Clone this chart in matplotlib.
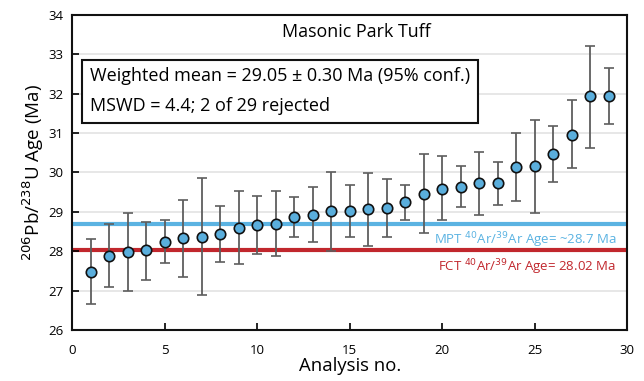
import numpy as np
import matplotlib
matplotlib.use('Agg')
from matplotlib import pyplot as plt

plt.rcParams['font.family'] = ['Open Sans', 'DejaVu Sans']

analysis = np.arange(1, 30)
age = [27.48, 27.88, 27.99, 28.03, 28.24, 28.33, 28.37, 28.44, 28.59, 28.66,
       28.70, 28.87, 28.93, 29.03, 29.03, 29.07, 29.09, 29.25, 29.46, 29.58,
       29.64, 29.72, 29.72, 30.14, 30.15, 30.46, 30.96, 31.93, 31.95]
upper = [28.30, 28.70, 28.97, 28.75, 28.78, 29.31, 29.85, 29.14, 29.52, 29.41,
         29.53, 29.38, 29.64, 30.02, 29.69, 29.98, 29.84, 29.69, 30.46, 30.41,
         30.17, 30.51, 30.26, 31.01, 31.34, 31.18, 31.84, 33.22, 32.66]
lower = [26.65, 27.08, 27.00, 27.28, 27.69, 27.35, 26.88, 27.73, 27.67, 27.93,
         27.87, 28.37, 28.23, 28.00, 28.37, 28.14, 28.35, 28.80, 28.47, 28.78,
         29.11, 28.92, 29.18, 29.28, 28.96, 29.75, 30.10, 30.63, 31.24]
mpt_age = 28.7
fct_age = 28.02

age = np.array(age)
yerr = [age - np.array(lower), np.array(upper) - age]

fig = plt.figure(figsize=(6.44, 3.81), dpi=100)
ax = fig.add_axes([0.112, 0.134, 0.862, 0.827])

for y in range(27, 34):
    ax.axhline(y, color='#e3e3e3', lw=1.2, zorder=0)

ax.axhline(mpt_age, color='#5bb3e2', lw=3, zorder=1)
ax.axhline(fct_age, color='#c1272d', lw=3, zorder=1)

ax.errorbar(analysis, age, yerr=yerr, fmt='o', color='#5e5e5e', elinewidth=1.3,
            capsize=3.5, capthick=1.2, markerfacecolor='#5aaedc',
            markeredgecolor='#111111', markeredgewidth=1.2, markersize=7.5, zorder=3)

ax.text(29.4, mpt_age - 0.17, 'MPT $^{40}$Ar/$^{39}$Ar Age= ~28.7 Ma', color='#5bb3e2',
        ha='right', va='top', fontsize=9.5)
ax.text(29.4, fct_age - 0.17, 'FCT $^{40}$Ar/$^{39}$Ar Age= 28.02 Ma', color='#c1272d',
        ha='right', va='top', fontsize=9.5)

ax.text(0.512, 0.946, 'Masonic Park Tuff', transform=ax.transAxes, ha='center', va='center',
        fontsize=12.9)
ax.text(0.032, 0.757, 'Weighted mean = 29.05 ± 0.30 Ma (95% conf.)\nMSWD = 4.4; 2 of 29 rejected',
        transform=ax.transAxes, ha='left', va='center', fontsize=13, linespacing=1.85,
        bbox=dict(boxstyle='square,pad=0.42', facecolor='white', edgecolor='#111111', lw=1.5))

ax.set_xlim(0, 30)
ax.set_ylim(26, 34)
ax.set_xticks([0, 5, 10, 15, 20, 25, 30])
ax.set_yticks(range(26, 35))
ax.tick_params(direction='in', length=5, width=1.2, labelsize=9.5, pad=6)
ax.tick_params(axis='x', pad=10)
for s in ax.spines.values():
    s.set_linewidth(1.5)
    s.set_color('#111111')

ax.set_xlabel('Analysis no.', fontsize=13.3, labelpad=0)
ax.set_ylabel('$^{206}$Pb/$^{238}$U Age (Ma)', fontsize=13.5, labelpad=2)

plt.savefig('out.png', dpi=100)
